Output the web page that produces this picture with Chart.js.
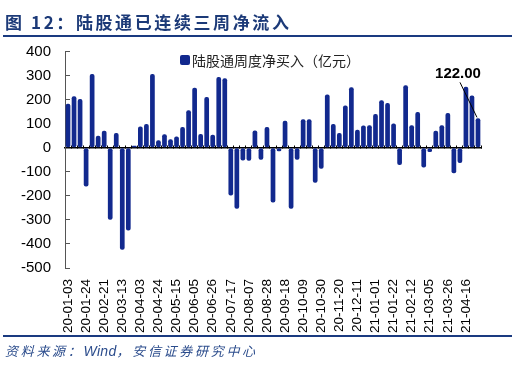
<!DOCTYPE html>
<html><head><meta charset="utf-8">
<script src="https://cdn.jsdelivr.net/npm/chart.js@4.4.0/dist/chart.umd.min.js"></script>
<style>
html,body{margin:0;padding:0;background:#fff;}
#wrap{position:relative;width:517px;height:368px;overflow:hidden;background:#fff;}
canvas{position:absolute;left:0;top:0;}
#title{position:absolute;left:5px;top:9px;font:bold 17px "Noto Sans CJK SC";letter-spacing:2.6px;color:#1c3a78;white-space:nowrap;line-height:26px;}
.rule{position:absolute;left:3px;width:509px;background:#1a3a80;}
#legend{position:absolute;left:180px;top:51px;height:18px;display:flex;align-items:center;font:14px "Noto Sans CJK SC";color:#222;white-space:nowrap;}
#legend i{display:inline-block;width:10px;height:10px;background:#12298e;border-radius:2px;margin-right:2px;}
#source{position:absolute;left:5px;top:342px;font:italic 13px "Noto Sans CJK SC";letter-spacing:2.7px;color:#2b4c8c;white-space:nowrap;line-height:18px;}
#source span{font:italic 14px "Liberation Sans";letter-spacing:0.3px;}
</style>
</head><body>
<div id="wrap">
<canvas id="c" width="517" height="368"></canvas>
<div id="title">图 12：陆股通已连续三周净流入</div>
<div class="rule" style="top:35px;height:2px;"></div>
<div id="legend"><i></i>陆股通周度净买入（亿元）</div>
<div class="rule" style="top:335px;height:1.5px;"></div>
<div id="source">资料来源：<span>Wind</span>，安信证券研究中心</div>
</div>
<script>
const categories = [
 '20-01-03','20-01-10','20-01-17','20-01-24','20-02-07','20-02-14','20-02-21','20-02-28','20-03-06','20-03-13',
 '20-03-20','20-03-27','20-04-03','20-04-10','20-04-17','20-04-24','20-05-01','20-05-08','20-05-15','20-05-22',
 '20-05-29','20-06-05','20-06-12','20-06-19','20-06-26','20-07-03','20-07-10','20-07-17','20-07-24','20-07-31',
 '20-08-07','20-08-14','20-08-21','20-08-28','20-09-04','20-09-11','20-09-18','20-09-25','20-10-02','20-10-09',
 '20-10-16','20-10-23','20-10-30','20-11-06','20-11-13','20-11-20','20-11-27','20-12-04','20-12-11','20-12-18',
 '20-12-25','21-01-01','21-01-08','21-01-15','21-01-22','21-01-29','21-02-05','21-02-12','21-02-19','21-02-26',
 '21-03-05','21-03-12','21-03-19','21-03-26','21-04-02','21-04-09','21-04-16','21-04-23','21-04-30'
];
const netBuy = [
 183,214,203,-161,306,50,71,-299,61,-424,
 -344,8,88,99,306,31,56,35,47,86,
 156,249,57,211,54,294,289,-199,-254,-53,
 -54,72,-50,86,-228,-15,112,-254,-50,118,
 118,-146,-87,221,99,61,176,251,75,92,
 93,140,197,186,101,-72,260,93,149,-82,
 -18,71,93,144,-106,-63,253,217,122
];
const tickLabels = [
 '20-01-03','20-01-24','20-02-21','20-03-13','20-04-03','20-04-24','20-05-15','20-06-05','20-06-26','20-07-17',
 '20-08-07','20-08-28','20-09-18','20-10-09','20-10-30','20-11-20','20-12-11','21-01-01','21-01-22','21-02-12',
 '21-03-05','21-03-26','21-04-16'
];
const yMin = -500, yMax = 400, yStep = 100;

const lastLabel = {
  id:'lastLabel',
  afterDatasetsDraw(chart){
    const meta = chart.getDatasetMeta(0);
    const i = netBuy.length - 1;
    const el = meta.data[i];
    const c = chart.ctx;
    c.save();
    c.strokeStyle = '#000'; c.lineWidth = 1;
    c.beginPath(); c.moveTo(el.x - 18, el.y - 36); c.lineTo(el.x - 1, el.y - 1); c.stroke();
    c.font = 'bold 15px "Liberation Sans"'; c.fillStyle = '#000';
    c.textAlign = 'center'; c.textBaseline = 'middle';
    c.fillText(netBuy[i].toFixed(2), el.x - 20, el.y - 45);
    c.restore();
  }
};

new Chart(document.getElementById('c'), {
  type:'bar',
  data:{labels:categories, datasets:[{
    label:'陆股通周度净买入（亿元）', data:netBuy, backgroundColor:'#12298e',
    borderRadius:2, borderSkipped:false, barPercentage:0.78, categoryPercentage:1
  }]},
  options:{
    responsive:false, animation:false,
    layout:{padding:{left:0,right:36,top:51.5,bottom:0}},
    plugins:{legend:{display:false}, tooltip:{enabled:false}},
    scales:{
      x:{
        grid:{display:false}, border:{display:false},
        ticks:{autoSkip:false, minRotation:90, maxRotation:90, padding:3, color:'#000',
          font:{family:'"Liberation Sans"', size:13.5},
          callback(v,i){ const l = categories[i]; return tickLabels.includes(l) ? l : ''; }},
        afterFit(s){ s.height = 100; }
      },
      x2:{
        type:'category', position:{y:0}, offset:true,
        grid:{offset:true, drawOnChartArea:false, tickLength:-3, color:'#000', lineWidth:1},
        border:{display:true, color:'#000', width:1.5},
        ticks:{display:false}, z:1
      },
      y:{
        min:yMin, max:yMax,
        ticks:{stepSize:yStep, padding:19, color:'#000', font:{family:'"Liberation Sans"', size:15}},
        grid:{drawOnChartArea:false, tickLength:-5, color:'#555'},
        border:{display:true, color:'#555', width:1},
        afterFit(s){ s.width = 65; }
      }
    }
  },
  plugins:[lastLabel]
});
</script>
</body></html>
